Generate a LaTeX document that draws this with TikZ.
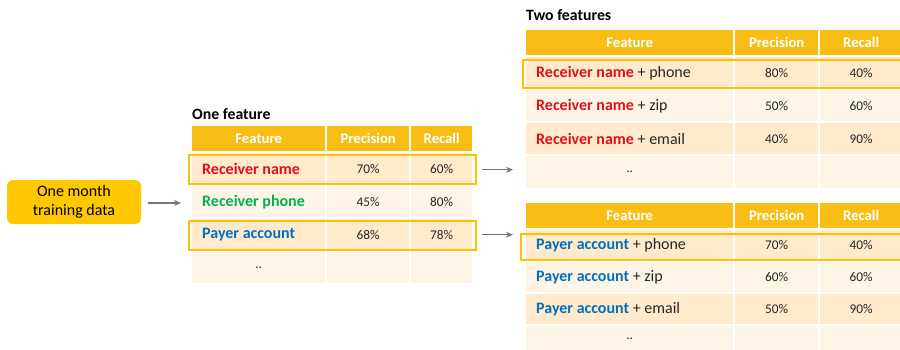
\documentclass[tikz,border=0pt]{standalone}
\usepackage{fontspec}
\setmainfont{Carlito}
\usetikzlibrary{arrows.meta,calc}

\definecolor{hdrcol}{RGB}{248,190,22}
\definecolor{boxcol}{RGB}{255,200,0}
\definecolor{banddark}{RGB}{255,235,204}
\definecolor{bandlight}{RGB}{255,245,230}
\definecolor{hlcol}{RGB}{255,192,0}
\definecolor{fred}{RGB}{222,16,30}
\definecolor{fgreen}{RGB}{0,176,80}
\definecolor{fblue}{RGB}{0,112,192}
\definecolor{numcol}{RGB}{38,38,38}
\definecolor{arrcol}{RGB}{118,118,118}

\tikzset{
  cell/.style={draw=none, inner sep=0pt, anchor=north west},
  hdr/.style={cell, fill=hdrcol, text=white, font=\bfseries\fontsize{14.7}{16}\selectfont},
  dk/.style={cell, fill=banddark},
  lt/.style={cell, fill=bandlight},
  num/.style={text=numcol, font=\fontsize{13.3}{15}\selectfont},
  feat/.style={anchor=west, inner sep=0pt, text=numcol, font=\fontsize{16}{18}\selectfont},
  title/.style={anchor=west, inner sep=0pt, font=\bfseries\fontsize{15.8}{18}\selectfont},
  hl/.style={draw=hlcol, line width=2pt},
  arr/.style={draw=arrcol, line width=1.3pt, -{Stealth[length=7pt,width=6pt]}},
  srcbox/.style={fill=boxcol, rounded corners=6pt, inner sep=0pt, align=center,
    minimum width=134pt, minimum height=44pt, font=\fontsize{16}{19}\selectfont},
}

% one row of three cells: name prefix, y top, height, style, first x, widths
\newcommand\rowcells[8]{%
  \node[#4, minimum width=#6pt, minimum height=#3pt] (#1f) at (#5,#2) {};
  \node[#4, minimum width=#7pt, minimum height=#3pt] (#1p) at ($(#5,#2)+(#6+2,0)$) {};
  \node[#4, minimum width=#8pt, minimum height=#3pt] (#1r) at ($(#5,#2)+(#6+#7+4,0)$) {};
}

\begin{document}
\begin{tikzpicture}[x=1pt, y=-1pt]
\useasboundingbox (0,0) rectangle (900,349);
\begin{scope}
\clip (0,0) rectangle (900,349);

% source box
\node[srcbox] (src) at (74,202) {One month\\training data};

% ---- one feature table
\node[title] (tA) at (192,114) {One feature};
\rowcells{Ah}{126}{25}{hdr}{192}{133}{82}{61}
\rowcells{A1}{153}{31}{dk}{192}{133}{82}{61}
\rowcells{A2}{186}{31}{lt}{192}{133}{82}{61}
\rowcells{A3}{219}{31}{dk}{192}{133}{82}{61}
\rowcells{A4}{252}{31}{lt}{192}{133}{82}{61}
\node[hdr, anchor=center, fill=none] at (Ahf) {Feature};
\node[hdr, anchor=center, fill=none] at (Ahp) {Precision};
\node[hdr, anchor=center, fill=none] at (Ahr) {Recall};
\node[feat, text=fred, font=\bfseries\fontsize{16}{18}\selectfont] at ($(A1f.west)+(10,0)$) {Receiver name};
\node[feat, text=fgreen, font=\bfseries\fontsize{16}{18}\selectfont] at ($(A2f.west)+(10,0)$) {Receiver phone};
\node[feat, text=fblue, font=\bfseries\fontsize{16}{18}\selectfont] at ($(A3f.west)+(10,0)$) {Payer account};
\node[num] at (A1p) {70\%}; \node[num] at (A1r) {60\%};
\node[num] at (A2p) {45\%}; \node[num] at (A2r) {80\%};
\node[num] at (A3p) {68\%}; \node[num] at (A3r) {78\%};
\node[num] at (A4f) {..};
\draw[hl] ($(A1f.north west)+(-3,2)$) rectangle ($(A1r.south east)+(4,0)$);
\draw[hl] ($(A3f.north west)+(-3,2)$) rectangle ($(A3r.south east)+(4,0)$);
\coordinate (hlA1) at ($(A1r.east)+(4,1)$);
\coordinate (hlA3) at ($(A3r.east)+(4,0)$);

% ---- two features table, receiver name
\node[title] (tB) at (526,15) {Two features};
\rowcells{Bh}{30}{25}{hdr}{526}{207}{83}{82}
\rowcells{B1}{57}{31}{dk}{526}{207}{83}{82}
\rowcells{B2}{90}{31}{lt}{526}{207}{83}{82}
\rowcells{B3}{123}{31}{dk}{526}{207}{83}{82}
\rowcells{B4}{156}{32}{lt}{526}{207}{83}{82}
\node[hdr, anchor=center, fill=none] at (Bhf) {Feature};
\node[hdr, anchor=center, fill=none] at (Bhp) {Precision};
\node[hdr, anchor=center, fill=none] at (Bhr) {Recall};
\node[feat] at ($(B1f.west)+(10,0)$) {\textcolor{fred}{\bfseries Receiver name} + phone};
\node[feat] at ($(B2f.west)+(10,0)$) {\textcolor{fred}{\bfseries Receiver name} + zip};
\node[feat] at ($(B3f.west)+(10,0)$) {\textcolor{fred}{\bfseries Receiver name} + email};
\node[num] at (B1p) {80\%}; \node[num] at (B1r) {40\%};
\node[num] at (B2p) {50\%}; \node[num] at (B2r) {60\%};
\node[num] at (B3p) {40\%}; \node[num] at (B3r) {90\%};
\node[num] at (B4f) {..};
\draw[hl] ($(B1f.north west)+(-3,3)$) rectangle ($(B1r.south east)+(4,0)$);

% ---- two features table, payer account
\rowcells{Ch}{203}{25}{hdr}{526}{207}{83}{82}
\rowcells{C1}{230}{30}{dk}{526}{207}{83}{82}
\rowcells{C2}{262}{30}{lt}{526}{207}{83}{82}
\rowcells{C3}{294}{30}{dk}{526}{207}{83}{82}
\rowcells{C4}{326}{30}{lt}{526}{207}{83}{82}
\node[hdr, anchor=center, fill=none] at (Chf) {Feature};
\node[hdr, anchor=center, fill=none] at (Chp) {Precision};
\node[hdr, anchor=center, fill=none] at (Chr) {Recall};
\node[feat] at ($(C1f.west)+(10,0)$) {\textcolor{fblue}{\bfseries Payer account} + phone};
\node[feat] at ($(C2f.west)+(10,0)$) {\textcolor{fblue}{\bfseries Payer account} + zip};
\node[feat] at ($(C3f.west)+(10,0)$) {\textcolor{fblue}{\bfseries Payer account} + email};
\node[num] at (C1p) {70\%}; \node[num] at (C1r) {40\%};
\node[num] at (C2p) {60\%}; \node[num] at (C2r) {60\%};
\node[num] at (C3p) {50\%}; \node[num] at (C3r) {90\%};
\node[num] at ($(C4f)+(0,-2)$) {..};
\draw[hl] ($(C1f.north west)+(-5,4)$) rectangle ($(C1r.south east)+(4,0)$);

% ---- connectors
\draw[arr] ($(src.east)+(7,1)$) -- ($(A1f.west |- src.east)+(-11,1)$);
\draw[arr] ($(hlA1)+(6,0)$) -- ($(B1f.west |- hlA1)+(-13,0)$);
\draw[arr] ($(hlA3)+(6,0)$) -- ($(C1f.west |- hlA3)+(-13,0)$);
\end{scope}
\end{tikzpicture}
\end{document}
